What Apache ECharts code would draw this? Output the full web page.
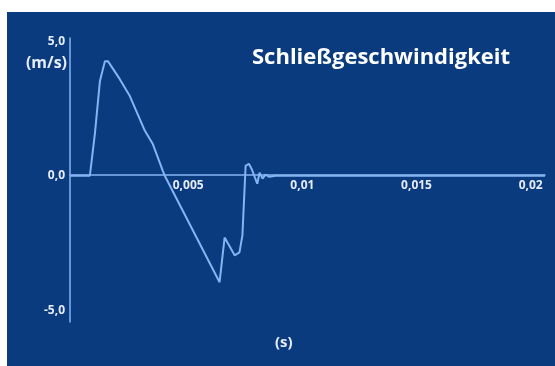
<!DOCTYPE html>
<html>
<head>
<meta charset="utf-8">
<script src="https://cdn.jsdelivr.net/npm/echarts@6/dist/echarts.min.js"></script>
<style>
  html, body { margin: 0; padding: 0; background: #ffffff; }
  #chart { width: 555px; height: 366px; }
</style>
</head>
<body>
<div id="chart"></div>
<script>
// time in seconds, closing speed in m/s
const timeS = [0, 0.00087, 0.00095, 0.00109, 0.00131, 0.00153, 0.00166, 0.00218, 0.00262, 0.00328, 0.00362, 0.00406, 0.00415,
  0.00655, 0.00677, 0.00721, 0.00742, 0.00755, 0.00769, 0.00783, 0.00795, 0.0082, 0.0083, 0.00843, 0.00856, 0.00873, 0.009, 0.0208]
const speed = [0, 0, 0.04, 1.56, 3.52, 4.26, 4.26, 3.59, 2.96, 1.67, 1.19, 0.19, 0,
  -3.96, -2.3, -2.96, -2.85, -2.22, 0.37, 0.44, 0.26, -0.3, 0.11, -0.11, 0.04, -0.04, 0, 0]
const xTicks = [0.005, 0.01, 0.015, 0.02]
const yTicks = [-5, 0, 5]
const title = 'Schließgeschwindigkeit'

const lineColor = '#86b4f2'
const textColor = '#e6edf8'
const fmt = v => String(v).replace('.', ',')

const chart = echarts.init(document.getElementById('chart'))
chart.setOption({
  animation: false,
  grid: { left: 70, right: 10, top: 38, bottom: 44 },
  graphic: [
    { type: 'rect', left: 7, top: 12, z: -10, shape: { width: 548, height: 354 }, style: { fill: '#0b3b7f' } },
    { type: 'text', left: 252, top: 47, style: { text: title, fill: '#ffffff', font: 'bold 22px "Open Sans"' } },
    { type: 'text', right: 488, top: 55, style: { text: '(m/s)', fill: textColor, font: 'bold 16px "Open Sans"' } },
    { type: 'text', left: 275, top: 335, style: { text: '(s)', fill: textColor, font: 'bold 15px "Open Sans"' } }
  ],
  xAxis: {
    type: 'value',
    min: 0,
    max: 0.0208,
    offset: -147,
    splitLine: { show: false },
    axisTick: { show: false },
    axisLine: { onZero: false, lineStyle: { color: lineColor, width: 1.5 } },
    axisLabel: {
      customValues: xTicks,
      color: textColor,
      fontFamily: 'Open Sans',
      fontWeight: 'bold',
      fontSize: 12,
      margin: 5,
      padding: [0, 0, 0, 8],
      formatter: fmt
    }
  },
  yAxis: {
    type: 'value',
    min: -5.44,
    max: 5.12,
    splitLine: { show: false },
    axisTick: { show: false },
    axisLine: { show: true, onZero: false, lineStyle: { color: lineColor, width: 1.5 } },
    axisLabel: {
      customValues: yTicks,
      color: textColor,
      fontFamily: 'Open Sans',
      fontWeight: 'bold',
      fontSize: 12,
      margin: 5,
      formatter: v => fmt(v.toFixed(1))
    }
  },
  series: [{
    type: 'line',
    data: timeS.map((t, i) => [t, speed[i]]),
    symbol: 'none',
    lineStyle: { color: lineColor, width: 2 }
  }]
})
</script>
</body>
</html>
